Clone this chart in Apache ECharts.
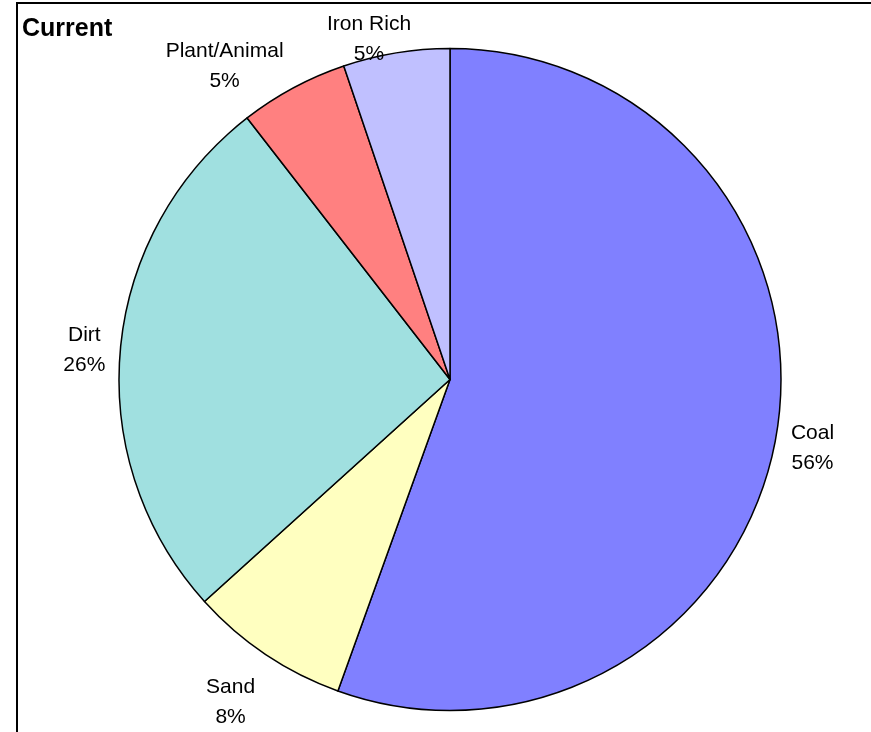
<!DOCTYPE html>
<html><head><meta charset="utf-8">
<script src="https://cdn.jsdelivr.net/npm/echarts@6/dist/echarts.min.js"></script>
<style>html,body{margin:0;padding:0;background:#fff}#c{width:871px;height:732px}</style>
</head><body><div id="c"></div>
<script>
const categories = ['Coal', 'Sand', 'Dirt', 'Plant/Animal', 'Iron Rich'];
const values = [55.5, 7.8, 26.2, 5.3, 5.2];
const colors = ['#8080FF', '#FFFFC0', '#A0E0E0', '#FF8080', '#C0C0FF'];
const titleText = 'Current';

const CX = 450, CY = 379.5, R = 331;
const chart = echarts.init(document.getElementById('c'), null, {renderer: 'canvas'});
chart.setOption({
  animation: false,
  backgroundColor: '#fff',
  title: {
    text: titleText, left: 22, top: 17, padding: 0,
    textStyle: {fontFamily: 'Liberation Sans, Arial, sans-serif', fontWeight: 'bold', fontSize: 25, color: '#000', lineHeight: 25}
  },
  graphic: [{
    type: 'rect', shape: {x: 17, y: 3, width: 900, height: 800},
    style: {fill: 'none', stroke: '#000', lineWidth: 2}, silent: true, z: 100
  }],
  series: [{
    type: 'pie',
    center: [CX, CY],
    radius: R,
    startAngle: 90,
    clockwise: true,
    avoidLabelOverlap: false,
    data: categories.map((c, i) => ({name: c, value: values[i], itemStyle: {color: colors[i]}})),
    itemStyle: {borderColor: '#000', borderWidth: 1.5},
    emphasis: {disabled: true},
    label: {
      show: true, position: 'outside',
      formatter: p => p.name + '\n' + Math.round(p.percent) + '%',
      fontFamily: 'Liberation Sans, Arial, sans-serif', fontSize: 21, lineHeight: 30, color: '#000'
    },
    labelLine: {show: true, length: 10, length2: 0, lineStyle: {opacity: 0, width: 0}},
    labelLayout: function (p) {
      const pts = p.labelLinePoints;
      if (!pts) return {};
      let dx = pts[0][0] - CX, dy = pts[0][1] - CY;
      const len = Math.sqrt(dx * dx + dy * dy) || 1;
      dx /= len; dy /= len;
      const w = p.labelRect.width, h = p.labelRect.height;
      const ax = CX + dx * (R + 10), ay = CY + dy * (R + 10);
      const sx = dx < 0 ? -1 : 1;
      let x = ax + sx * (Math.min(1, 3 * Math.abs(dx)) * w / 2 + 5);
      let y = ay + (dy > 0 ? dy * 45 : dy * 17) + 2;
      if (y - h / 2 < 9) y = 9 + h / 2;
      return {x: x, y: y, align: 'center', verticalAlign: 'middle'};
    }
  }]
});
</script></body></html>
